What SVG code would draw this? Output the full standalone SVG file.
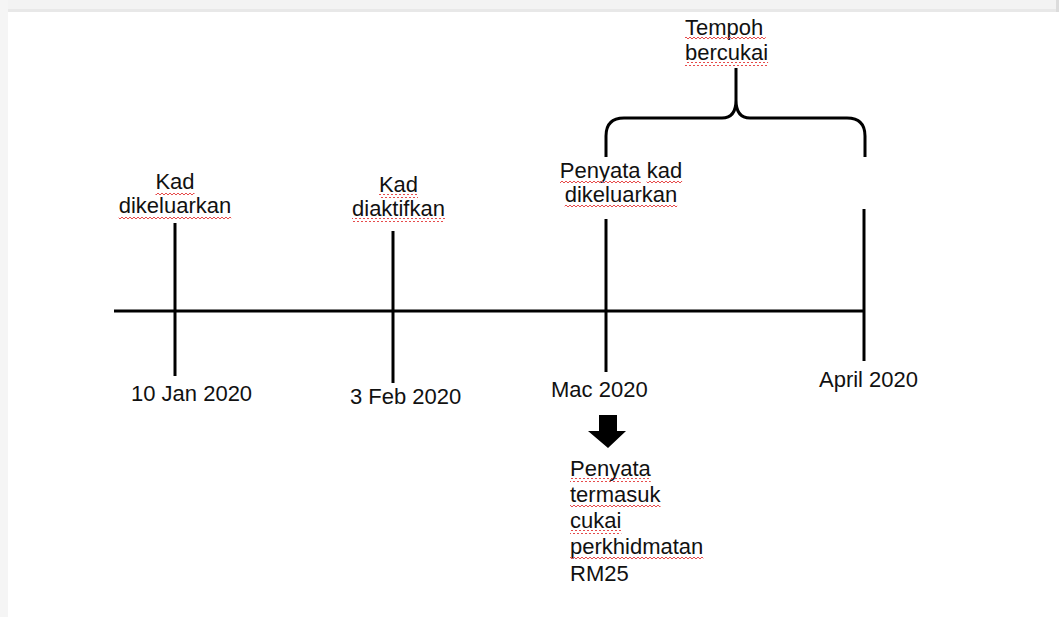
<svg xmlns="http://www.w3.org/2000/svg" width="1059" height="617" viewBox="0 0 1059 617">
  <style>
    .t { font-family: "Liberation Sans", Arial, sans-serif; font-size: 22px; fill: #111; }
    .c { text-anchor: middle; }
    .ln { stroke: #000; stroke-width: 3; fill: none; }
    .sq { fill: url(#sq); }
  </style>
  <defs>
    <pattern id="sq" width="4" height="4" patternUnits="userSpaceOnUse">
      <path d="M0,3 L2,1 L4,3" fill="none" stroke="#e64b4b" stroke-width="1"/>
    </pattern>
  </defs>
  <rect width="1059" height="617" fill="#ffffff"/>
  <rect x="0" y="0" width="1059" height="12" fill="#f3f3f3"/>
  <rect x="0" y="9" width="1059" height="3" fill="#e8e8e8"/>
  <rect x="0" y="0" width="8" height="617" fill="#f5f5f5"/>
  <rect x="1056" y="0" width="3" height="12" fill="#dcdcdc"/>

  <g id="connectors">
    <line class="ln" x1="114" y1="311" x2="864" y2="311"/>
    <path class="ln" d="M606,157 L606,136 Q606,118 624,118 L722,118 Q736,118 736,100 L736,68 M736,100 Q736,118 750,118 L847,118 Q865,118 865,136 L865,157"/>
    <polygon points="599,415 617,415 617,431 626,431 608,448 588,431 599,431" fill="#000"/>
  </g>

  <g id="tick-jan">
    <line class="ln" x1="175" y1="223" x2="175" y2="376"/>
    <text class="t c" x="175" y="189">Kad</text>
    <text class="t c" x="175" y="213">dikeluarkan</text>
    <rect class="sq" x="155.5" y="191" width="39" height="4"/>
    <rect class="sq" x="118.7" y="215" width="112.5" height="4"/>
    <text class="t" x="131" y="401">10 Jan 2020</text>
  </g>

  <g id="tick-feb">
    <line class="ln" x1="393" y1="231" x2="393" y2="383"/>
    <text class="t c" x="398.5" y="192">Kad</text>
    <text class="t c" x="398.5" y="216">diaktifkan</text>
    <rect class="sq" x="379" y="194" width="39" height="4"/>
    <rect class="sq" x="352" y="218" width="93" height="4"/>
    <text class="t" x="350" y="404">3 Feb 2020</text>
  </g>

  <g id="tick-mac">
    <line class="ln" x1="606" y1="219" x2="606" y2="372"/>
    <text class="t c" x="621" y="178">Penyata kad</text>
    <text class="t c" x="621" y="202">dikeluarkan</text>
    <rect class="sq" x="560" y="180" width="80.7" height="4"/>
    <rect class="sq" x="646.6" y="180" width="35.5" height="4"/>
    <rect class="sq" x="564.7" y="204" width="112.5" height="4"/>
    <text class="t" x="551" y="397">Mac 2020</text>
  </g>

  <g id="tick-april">
    <line class="ln" x1="864" y1="209" x2="864" y2="361"/>
    <text class="t" x="819" y="387">April 2020</text>
  </g>

  <g id="tempoh">
    <text class="t" x="685" y="35">Tempoh</text>
    <text class="t" x="685" y="60">bercukai</text>
    <rect class="sq" x="685" y="37" width="80.7" height="4"/>
    <rect class="sq" x="685" y="62" width="83.1" height="4"/>
  </g>

  <g id="penyata-note">
    <text class="t" x="570" y="476">Penyata</text>
    <text class="t" x="570" y="502">termasuk</text>
    <text class="t" x="570" y="528">cukai</text>
    <text class="t" x="570" y="554">perkhidmatan</text>
    <text class="t" x="570" y="581">RM25</text>
    <rect class="sq" x="570" y="478" width="80.7" height="4"/>
    <rect class="sq" x="570" y="504" width="90.5" height="4"/>
    <rect class="sq" x="570" y="530" width="51.3" height="4"/>
    <rect class="sq" x="570" y="556" width="133.3" height="4"/>
  </g>
</svg>
